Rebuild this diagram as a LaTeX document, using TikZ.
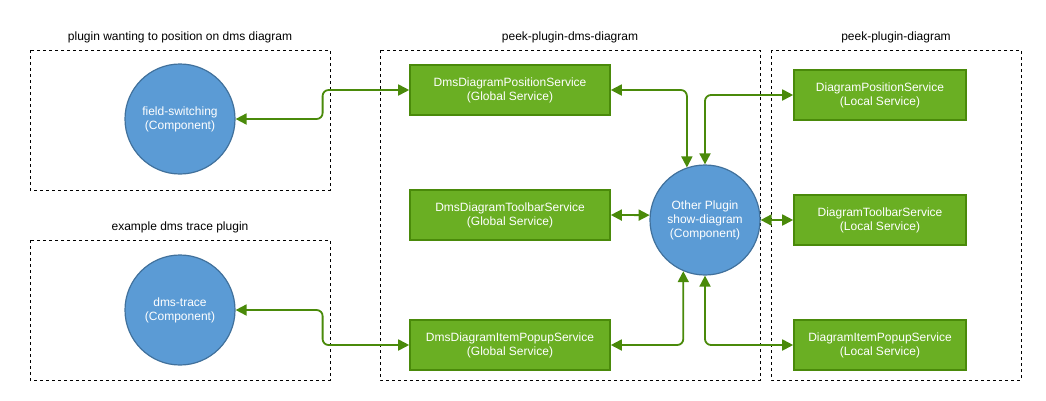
\documentclass[tikz,border=0pt]{standalone}
\usepackage{fontspec}
\setmainfont{Liberation Sans}
\usetikzlibrary{arrows.meta}
\definecolor{gfill}{HTML}{6AAF23}
\definecolor{gdraw}{HTML}{4A8A0A}
\definecolor{bfill}{HTML}{5B9BD5}
\definecolor{bdraw}{HTML}{41719C}
\tikzset{
  grp/.style={draw=black, dash pattern=on 3pt off 3pt, line width=0.7pt},
  title/.style={font=\fontsize{12}{14}\selectfont, text=black},
  svc/.style={draw=gdraw, fill=gfill, line width=1.6pt, minimum width=200pt, minimum height=50pt, text=white, align=center, font=\fontsize{12}{14}\selectfont, inner sep=0pt},
  lsvc/.style={svc, minimum width=172pt},
  comp/.style={circle, draw=bdraw, fill=bfill, line width=1.2pt, minimum size=110pt, text=white, align=center, font=\fontsize{12}{14}\selectfont, inner sep=0pt},
  arr/.style={draw=gdraw, line width=1.8pt, rounded corners=6pt, {Triangle[length=11pt,width=11pt]}-{Triangle[length=11pt,width=11pt]}},
}
\begin{document}
\begin{tikzpicture}[x=1pt,y=-1pt]
\useasboundingbox (0,0) rectangle (1046,400);
% groups
\draw[grp] (30,50) rectangle (330,190);
\draw[grp] (30,240) rectangle (330,380);
\draw[grp] (380,50) rectangle (760,380);
\draw[grp] (771,50) rectangle (1021,380);
\node[title] (t1) at (180,37) {plugin wanting to position on dms diagram};
\node[title] (t2) at (180,227) {example dms trace plugin};
\node[title] (t3) at (570,37) {peek-plugin-dms-diagram};
\node[title] (t4) at (896,37) {peek-plugin-diagram};
% components
\node[comp] (fs) at (180,119) {field-switching\\(Component)};
\node[comp] (dt) at (180,310) {dms-trace\\(Component)};
\node[comp] (op) at (705,220) {Other Plugin\\show-diagram\\(Component)};
% services
\node[svc] (dpos) at (510,90) {DmsDiagramPositionService\\(Global Service)};
\node[svc] (dtool) at (510,215) {DmsDiagramToolbarService\\(Global Service)};
\node[svc] (dpop) at (510,345) {DmsDiagramItemPopupService\\(Global Service)};
\node[lsvc] (pos) at (880,95) {DiagramPositionService\\(Local Service)};
\node[lsvc] (tool) at (880,220) {DiagramToolbarService\\(Local Service)};
\node[lsvc] (pop) at (880,345) {DiagramItemPopupService\\(Local Service)};
% connectors
\draw[arr] (fs.east) -- ++(87,0) |- (dpos.west);
\draw[arr] (dt.east) -- ++(87,0) |- (dpop.west);
\draw[arr] (dpos.east) -| (op.109);
\draw[arr] (op.north) |- (pos.west);
\draw[arr] (dtool.east) -- (op.175);
\draw[arr] (op.east) -- (tool.west);
\draw[arr] (dpop.east) -| (op.-113);
\draw[arr] (op.south) |- (pop.west);
\end{tikzpicture}
\end{document}
